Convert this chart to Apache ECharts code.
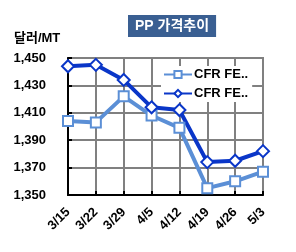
<!DOCTYPE html>
<html><head><meta charset="utf-8">
<script src="https://cdn.jsdelivr.net/npm/echarts@6/dist/echarts.min.js"></script>
<style>html,body{margin:0;padding:0;background:#fff}#c{width:296px;height:252px}</style>
</head><body><div id="c"></div>
<script>
const categories = ['3/15','3/22','3/29','4/5','4/12','4/19','4/26','5/3'];
const seriesNames = ['CFR FE A', 'CFR FE B'];
const legendLabels = ['CFR FE..', 'CFR FE..'];
const lightValues = [1404, 1403, 1422, 1408, 1399, 1355, 1360, 1367];
const darkValues = [1444, 1445, 1434, 1414, 1412, 1374, 1375, 1382];
const yTicks = [1350, 1370, 1390, 1410, 1430, 1450];
const titleText = 'PP 가격추이';
const unitText = '달러/MT';

const font = '"Liberation Sans", Arial, "Noto Sans CJK KR", sans-serif';
const chart = echarts.init(document.getElementById('c'));
chart.setOption({
  animation: false,
  title: {
    text: titleText, left: 128, top: 15,
    backgroundColor: '#3a5f92', padding: [4, 7],
    textStyle: { color: '#fff', fontSize: 14, fontWeight: 'bold', fontFamily: font }
  },
  graphic: [{
    type: 'text', left: 14, top: 32,
    style: { text: unitText, fontSize: 13, fontWeight: 'bold', fontFamily: font, fill: '#000' }
  }],
  legend: {
    orient: 'vertical', left: 161, top: 66,
    backgroundColor: '#fff', padding: [2, 4, 2, 2], itemGap: 6,
    itemWidth: 28, itemHeight: 9,
    data: seriesNames,
    formatter: function (n) { return legendLabels[seriesNames.indexOf(n)]; },
    textStyle: { fontSize: 13, fontWeight: 'bold', fontFamily: font, color: '#000', padding: [0, 0, 0, -3] }
  },
  grid: { left: 68, right: 33, top: 58, bottom: 57, show: true, borderColor: '#808080', borderWidth: 2 },
  xAxis: {
    type: 'category', data: categories, boundaryGap: false,
    axisLine: { lineStyle: { color: '#000', width: 2 } },
    axisTick: { inside: true, length: 4, lineStyle: { color: '#000', width: 2 } },
    splitLine: { show: true, lineStyle: { color: '#808080', width: 2 } },
    axisLabel: { rotate: 45, margin: 15, fontSize: 13, fontWeight: 'bold', fontFamily: font, color: '#000' }
  },
  yAxis: {
    type: 'value', min: yTicks[0], max: yTicks[yTicks.length - 1], interval: 20,
    axisLine: { show: true, lineStyle: { color: '#000', width: 2 } },
    axisTick: { show: true, inside: true, length: 4, lineStyle: { color: '#000', width: 2 } },
    splitLine: { lineStyle: { color: '#808080', width: 2 } },
    axisLabel: { margin: 22, fontSize: 13, fontWeight: 'bold', fontFamily: font, color: '#000',
      formatter: function (v) { return v.toLocaleString('en-US'); } }
  },
  series: [
    { name: seriesNames[0], type: 'line', data: lightValues, symbol: 'rect', symbolSize: 10,
      lineStyle: { color: '#5b8fd6', width: 4 },
      itemStyle: { color: '#fff', borderColor: '#5b8fd6', borderWidth: 2 } },
    { name: seriesNames[1], type: 'line', data: darkValues, symbol: 'diamond', symbolSize: 12,
      lineStyle: { color: '#0a36c8', width: 4 },
      itemStyle: { color: '#fff', borderColor: '#0a36c8', borderWidth: 2 } }
  ]
});
</script></body></html>
